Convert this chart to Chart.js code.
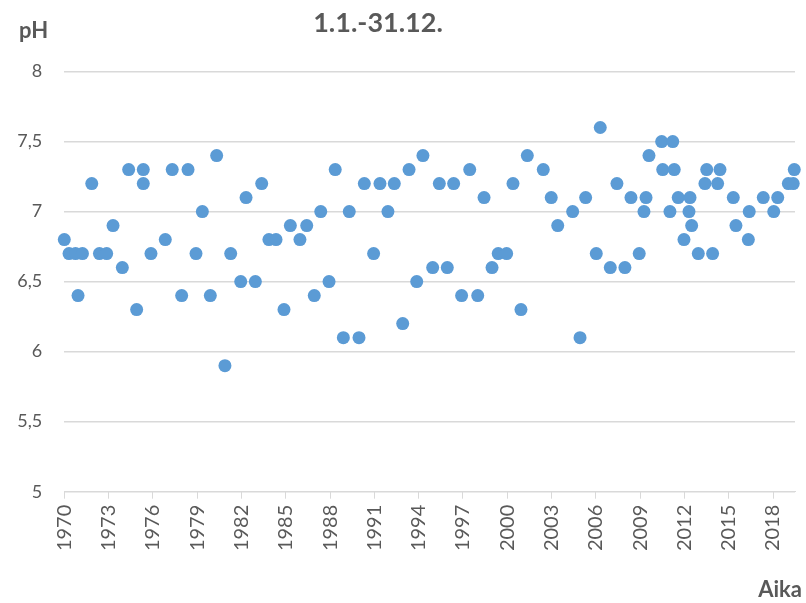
<!DOCTYPE html>
<html>
<head>
<meta charset="utf-8">
<script src="https://cdn.jsdelivr.net/npm/chart.js@4/dist/chart.umd.min.js"></script>
<style>
  html, body { margin: 0; padding: 0; background: #ffffff; }
  #wrap { width: 806px; height: 603px; position: relative; }
</style>
</head>
<body>
<div id="wrap"><canvas id="c" width="806" height="603"></canvas></div>
<script>
// ---- data ----
const TITLE = '1.1.-31.12.';
const Y_TITLE = 'pH';
const X_TITLE = 'Aika';

// sampling time as decimal year
const sampleTimes = [
  1970.00, 1970.32, 1970.76, 1970.93, 1971.23, 1971.86, 1972.38, 1972.87, 1973.30, 1973.93,
  1974.36, 1974.90, 1975.35, 1975.35, 1975.87, 1976.84, 1977.31, 1977.95, 1978.38, 1978.92,
  1979.35, 1979.89, 1980.32, 1980.88, 1981.27, 1981.95, 1982.31, 1982.94, 1983.37, 1983.86,
  1984.34, 1984.88, 1985.31, 1985.96, 1986.42, 1986.93, 1987.37, 1987.93, 1988.35, 1988.90,
  1989.30, 1989.96, 1990.32, 1990.95, 1991.38, 1991.92, 1992.35, 1992.92, 1993.35, 1993.87,
  1994.29, 1994.95, 1995.40, 1995.94, 1996.37, 1996.91, 1997.46, 1998.00, 1998.43, 1998.97,
  1999.39, 1999.96, 2000.39, 2000.93, 2001.36, 2002.44, 2002.98, 2003.42, 2004.43, 2004.93,
  2005.31, 2006.03, 2006.30, 2006.98, 2007.43, 2007.97, 2008.38, 2008.94, 2009.26, 2009.40,
  2009.60, 2010.46, 2010.53, 2011.02, 2011.21, 2011.31, 2011.58, 2011.97, 2012.31, 2012.38,
  2012.49, 2012.94, 2013.39, 2013.51, 2013.91, 2014.25, 2014.41, 2015.31, 2015.49, 2016.33,
  2016.39, 2017.34, 2018.05, 2018.32, 2019.04, 2019.37, 2019.44
];
const phValues = [
  6.8, 6.7, 6.7, 6.4, 6.7, 7.2, 6.7, 6.7, 6.9, 6.6,
  7.3, 6.3, 7.3, 7.2, 6.7, 6.8, 7.3, 6.4, 7.3, 6.7,
  7.0, 6.4, 7.4, 5.9, 6.7, 6.5, 7.1, 6.5, 7.2, 6.8,
  6.8, 6.3, 6.9, 6.8, 6.9, 6.4, 7.0, 6.5, 7.3, 6.1,
  7.0, 6.1, 7.2, 6.7, 7.2, 7.0, 7.2, 6.2, 7.3, 6.5,
  7.4, 6.6, 7.2, 6.6, 7.2, 6.4, 7.3, 6.4, 7.1, 6.6,
  6.7, 6.7, 7.2, 6.3, 7.4, 7.3, 7.1, 6.9, 7.0, 6.1,
  7.1, 6.7, 7.6, 6.6, 7.2, 6.6, 7.1, 6.7, 7.0, 7.1,
  7.4, 7.5, 7.3, 7.0, 7.5, 7.3, 7.1, 6.8, 7.0, 7.1,
  6.9, 6.7, 7.2, 7.3, 6.7, 7.2, 7.3, 7.1, 6.9, 6.8,
  7.0, 7.1, 7.0, 7.1, 7.2, 7.2, 7.3
];

const xTickYears = [1970, 1973, 1976, 1979, 1982, 1985, 1988, 1991, 1994, 1997,
                    2000, 2003, 2006, 2009, 2012, 2015, 2018];
const xAxisMin = 1970;
const xAxisMax = 2019.49;
const yTickValues = [5, 5.5, 6, 6.5, 7, 7.5, 8];
// ---------------------------------------------

const TEXT = '#595959';
const GRID = '#D9D9D9';
const FONT = 'Lato';

const points = sampleTimes.map((t, i) => ({ x: t, y: phValues[i] }));

const textPlugin = {
  id: 'extraTexts',
  afterDraw(chart) {
    const ctx = chart.ctx;
    ctx.save();
    ctx.fillStyle = TEXT;
    ctx.textBaseline = 'alphabetic';
    ctx.font = 'bold 27px ' + FONT;
    ctx.textAlign = 'center';
    ctx.fillText(TITLE, 378, 32);
    ctx.font = 'bold 22px ' + FONT;
    ctx.textAlign = 'left';
    ctx.fillText(Y_TITLE, 19, 38);
    ctx.textAlign = 'right';
    ctx.fillText(X_TITLE, 802, 597);
    ctx.restore();
  }
};

new Chart(document.getElementById('c'), {
  type: 'scatter',
  data: {
    datasets: [{
      label: 'pH',
      data: points,
      backgroundColor: '#5B9BD5',
      borderColor: '#5B9BD5',
      borderWidth: 0,
      pointRadius: 6.5,
      pointHoverRadius: 6.5,
      clip: false
    }]
  },
  options: {
    responsive: false,
    animation: false,
    events: [],
    layout: { padding: { top: 71.5, right: 11, bottom: 0, left: 0 } },
    plugins: {
      legend: { display: false },
      title: { display: false },
      tooltip: { enabled: false }
    },
    scales: {
      x: {
        type: 'linear',
        min: xAxisMin,
        max: xAxisMax,
        afterFit(scale) { scale.height = 603 - 491.7; },
        afterBuildTicks(scale) { scale.ticks = xTickYears.map(v => ({ value: v })); },
        border: { display: true, color: GRID, width: 1 },
        grid: { drawOnChartArea: false, drawTicks: true, tickLength: 7, color: GRID, lineWidth: 1 },
        ticks: {
          minRotation: 90, maxRotation: 90, autoSkip: false,
          padding: 6,
          color: TEXT,
          font: { family: FONT, size: 20 },
          callback: (v) => String(v)
        }
      },
      y: {
        min: 5,
        max: 8,
        afterFit(scale) { scale.width = 64.3; },
        afterBuildTicks(scale) { scale.ticks = yTickValues.map(v => ({ value: v })); },
        border: { display: false },
        grid: { drawTicks: false, color: GRID, lineWidth: 1.4 },
        ticks: {
          padding: 22,
          color: TEXT,
          font: { family: FONT, size: 18 },
          callback: (v) => String(v).replace('.', ',')
        }
      }
    }
  },
  plugins: [textPlugin]
});
</script>
</body>
</html>
